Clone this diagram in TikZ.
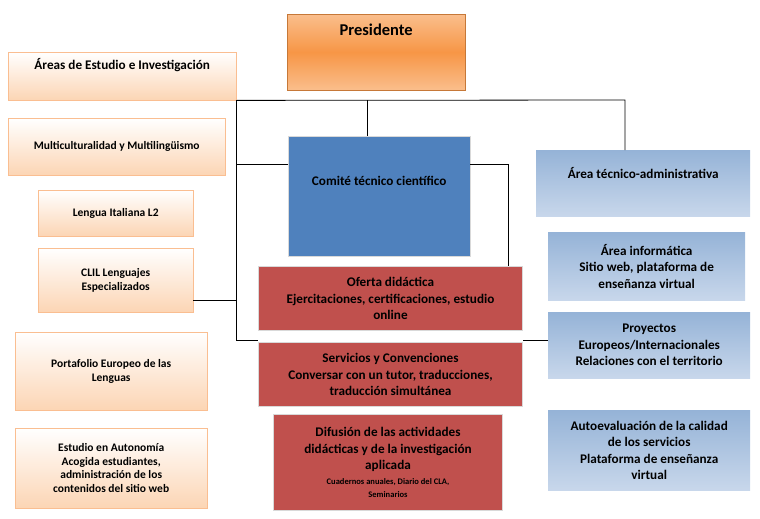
\documentclass[tikz,border=0pt]{standalone}
\usepackage{fontspec}
\setmainfont{Carlito}
\usetikzlibrary{positioning}

\definecolor{orangeTop}{RGB}{250,190,140}
\definecolor{orangeMid}{RGB}{247,150,70}
\definecolor{peach}{RGB}{252,213,180}
\definecolor{peachLine}{RGB}{250,190,145}
\definecolor{blueBox}{RGB}{79,129,189}
\definecolor{redBox}{RGB}{192,80,77}
\definecolor{lightBlue}{RGB}{149,179,215}
\definecolor{paleBlue}{RGB}{200,215,235}

\begin{document}
\begin{tikzpicture}[x=1pt,y=-1pt,font=\bfseries\fontsize{11.5}{13.5}\selectfont]
    % Styles
    \tikzset{
      box/.style={rectangle, align=center, inner sep=2pt},
      peachblock/.style={box, draw=peachLine, top color=white, bottom color=peach},
      redblock/.style={box, draw=white!85!black, line width=1pt, fill=redBox},
      blueblock/.style={box, top color=lightBlue, bottom color=paleBlue},
      link/.style={black, line width=0.8pt},
      big/.style={font=\bfseries\fontsize{13.2}{16.5}\selectfont}
    }
    \useasboundingbox (0,0) rectangle (760,519);

    % Presidente
    \node (pres) [box, top color=orangeTop, bottom color=orangeTop, middle color=orangeMid, draw=orangeMid!80!black,
      minimum width=178pt, minimum height=76pt, anchor=north west, text depth=44pt,
      font=\bfseries\fontsize{16.5}{18}\selectfont] at (287,14) {Presidente};

    % Left column
    \node (areas) [peachblock, big, minimum width=228pt, minimum height=48pt, anchor=north west, text depth=24pt]
      at (8,52) {Áreas de Estudio e Investigación};
    \node (multi) [peachblock, minimum width=217pt, minimum height=57pt, anchor=north west] at (8,118) {Multiculturalidad y Multilingüismo};
    \node (lengua) [peachblock, minimum width=155pt, minimum height=46pt, anchor=north west] at (38,190) {Lengua Italiana L2};
    \node (clil) [peachblock, minimum width=155pt, minimum height=64pt, anchor=north west] at (38,248) {CLIL Lenguajes\\Especializados};
    \node (porta) [peachblock, minimum width=192pt, minimum height=78pt, anchor=north west] at (15,332) {Portafolio Europeo de las\\Lenguas};
    \node (auton) [peachblock, minimum width=192pt, minimum height=80pt, anchor=north west] at (15,428) {Estudio en Autonomía\\Acogida estudiantes,\\administración de los\\contenidos del sitio web};

    % Centre column
    \node (comite) [box, big, fill=blueBox, draw=white!85!black, minimum width=182pt, minimum height=120pt,
      anchor=north west, text depth=30pt] at (288,136) {Comité técnico científico};
    \node (oferta) [redblock, big, minimum width=264pt, minimum height=64pt, anchor=north west]
      at (258,266) {Oferta didáctica\\Ejercitaciones, certificaciones, estudio\\online};
    \node (serv) [redblock, big, minimum width=264pt, minimum height=64pt, anchor=north west]
      at (258,342) {Servicios y Convenciones\\Conversar con un tutor, traducciones,\\traducción simultánea};
    \node (difu) [redblock, big, minimum width=229pt, minimum height=96pt, anchor=north west]
      at (273,414) {Difusión de las actividades\\didácticas y de la investigación\\aplicada\\[-2pt]{\fontsize{8.5}{10}\selectfont Cuadernos anuales, Diario del CLA,}\\[-3pt]{\fontsize{8.5}{10}\selectfont Seminarios}};

    % Right column
    \node (tecnico) [blueblock, big, minimum width=214pt, minimum height=66pt, anchor=north west, text depth=20pt]
      at (536,150) {Área técnico-administrativa};
    \node (info) [blueblock, big, minimum width=197pt, minimum height=68pt, anchor=north west]
      at (548,232) {Área informática\\Sitio web, plataforma de\\enseñanza virtual};
    \node (proy) [blueblock, big, minimum width=202pt, minimum height=66pt, anchor=north west]
      at (548,312) {Proyectos\\Europeos/Internacionales\\Relaciones con el territorio};
    \node (auto) [blueblock, big, minimum width=202pt, minimum height=80pt, anchor=north west]
      at (548,410) {Autoevaluación de la calidad\\de los servicios\\Plataforma de enseñanza\\virtual};

    % Connectors
    \coordinate (hubL) at (236,100);
    \coordinate (hubR) at (625,100);
    \coordinate (hubB) at (236,340);
    \coordinate (hubC) at (367,100);
    \coordinate (hubO) at (508,164);
    \draw[link] (areas.south east) -- (hubR) -- (tecnico.north -| hubR);
    \draw[link] (hubC) -- (hubC |- comite.north);
    \draw[link] (hubL) -- (hubB) -- (serv.west |- hubB);
    \draw[link] (comite.west |- 0,164) -- (236,164);
    \draw[link] (clil.east |- 0,300) -- (236,300);
    \draw[link] (comite.east |- hubO) -- (hubO) -- (hubO |- oferta.north);
    \draw[link] (serv.east |- hubB) -- (proy.west |- hubB);
\end{tikzpicture}
\end{document}
